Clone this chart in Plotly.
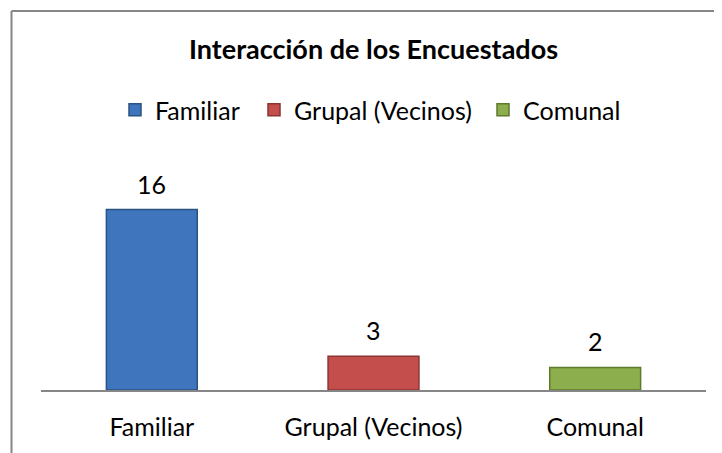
import plotly.graph_objects as go

categories = ["Familiar", "Grupal (Vecinos)", "Comunal"]
values = [16, 3, 2]
colors = ["#3F75BC", "#C44E4B", "#8DAE4C"]
outlines = ["#2A5282", "#8B3533", "#5E7A2C"]
title_text = "Interacción de los Encuestados"

FONT = "Lato, Carlito, Calibri, sans-serif"

# page body has an 8px offset; layout numbers are in figure coordinates
ml, mr, mt, mb = 33, 24, 179, 71
pw = 722 - ml - mr
ph = 453 - mt - mb

legend_ids = ["legend", "legend2", "legend3"]
legend_text_x = [147, 286, 515]  # where each legend entry's text starts (figure px)

fig = go.Figure()
for cat, val, col, oc, lid in zip(categories, values, colors, outlines, legend_ids):
    fig.add_trace(go.Bar(
        x=[cat], y=[val], name=cat,
        marker=dict(color=col, line=dict(color=oc, width=1.5)),
        width=0.41,
        hoverinfo="x+y",
        legend=lid,
    ))
    fig.add_annotation(
        x=cat, y=val, text=str(val), showarrow=False,
        xref="x", yref="y", yanchor="bottom", yshift=9,
        font=dict(family=FONT, size=25, color="#000000"),
    )

x_left = (3.5 - ml) / pw
y_top = (453 - mb - 3) / ph
fig.add_shape(type="line", xref="paper", yref="paper",
              x0=x_left, x1=x_left, y0=-1, y1=y_top,
              line=dict(color="#868686", width=2))
fig.add_shape(type="line", xref="paper", yref="paper",
              x0=x_left, x1=2, y0=y_top, y1=y_top,
              line=dict(color="#868686", width=2))

legend_common = dict(orientation="h", xanchor="left",
                     y=(453 - mb - 102) / ph, yanchor="middle",
                     font=dict(family=FONT, size=25, color="#000000"),
                     itemclick=False, itemdoubleclick=False,
                     bgcolor="rgba(0,0,0,0)")
legends = {}
for lid, tx in zip(legend_ids, legend_text_x):
    legends[lid] = dict(legend_common, x=(tx - 40 - ml) / pw)

fig.update_layout(
    width=722, height=453,
    margin=dict(l=ml, r=mr, t=mt, b=mb),
    paper_bgcolor="white", plot_bgcolor="white",
    barmode="overlay",
    font=dict(family=FONT, size=25, color="#000000"),
    title=dict(text="<b>" + title_text + "</b>", x=0.5, xref="paper",
               y=1 - 42 / 453, yref="container", yanchor="middle",
               font=dict(family=FONT, size=27, color="#000000")),
    xaxis=dict(showline=True, linecolor="#868686", linewidth=2,
               showgrid=False, zeroline=False, ticks="",
               ticklabelstandoff=14,
               tickfont=dict(family=FONT, size=25, color="#000000")),
    yaxis=dict(visible=False, range=[0, 18], showgrid=False, zeroline=False),
    showlegend=True,
    **legends,
)

fig.write_html("out.html")
